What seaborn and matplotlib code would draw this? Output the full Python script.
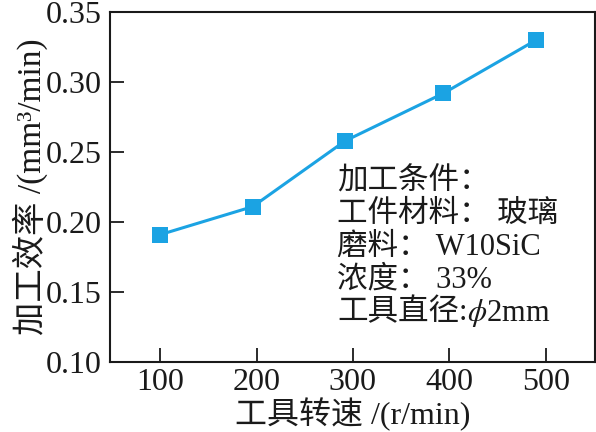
import numpy as np
import pandas as pd
import seaborn as sns
import matplotlib.pyplot as plt

# values
speed = [100, 196, 292, 394, 490]
rate = [0.191, 0.211, 0.258, 0.292, 0.330]
x_ticks = [100, 200, 300, 400, 500]
y_ticks = [0.10, 0.15, 0.20, 0.25, 0.30, 0.35]
notes = ["加工条件：", "工件材料： 玻璃", "磨料： W10SiC", "浓度： 33%"]
last_note = ["工具直径:", "$\\phi$2mm"]

sns.set_theme(style="ticks")
plt.rcParams['font.family'] = ['Liberation Serif', 'Noto Sans CJK SC']
plt.rcParams['mathtext.fontset'] = 'stix'

ink = '#1a1a1a'
blue = '#1ba3e3'

df = pd.DataFrame({'speed': speed, 'rate': rate})

fig = plt.figure(figsize=(5.96, 4.32), dpi=100)
ax = fig.add_axes([0.1846, 0.162, 0.8134, 0.810])

sns.lineplot(data=df, x='speed', y='rate', ax=ax, color=blue, linewidth=2.2,
             marker='s', markersize=11, markeredgewidth=0, markerfacecolor=blue)

ax.set_xlim(48, 551)
ax.set_ylim(0.10, 0.35)
ax.set_xticks(x_ticks)
ax.set_yticks(y_ticks)
ax.set_yticklabels([f'{v:.2f}' for v in y_ticks])
ax.tick_params(direction='in', length=10, width=1.3, labelsize=23, colors=ink)
ax.tick_params(axis='y', pad=6)
ax.tick_params(axis='x', pad=4)
for s in ax.spines.values():
    s.set_linewidth(1.5)
    s.set_color(ink)

ax.set_xlabel('工具转速 /(r/min)', fontsize=23, color=ink, labelpad=1)
ax.set_ylabel('加工效率 /(mm³/min)', fontsize=24, color=ink, labelpad=-2)

# condition notes, one line at a time
y0, step = 0.514, 0.0935
for i, line in enumerate(notes):
    ax.text(0.468, y0 - i * step, line, transform=ax.transAxes, ha='left', va='center',
            fontsize=22, color=ink)
t = ax.text(0.468, y0 - len(notes) * step, last_note[0], transform=ax.transAxes,
            ha='left', va='center', fontsize=22, color=ink)
ax.annotate(last_note[1], xy=(1, 0.5), xycoords=t, ha='left', va='center',
            fontsize=22, color=ink)

fig.savefig('out.png', dpi=100)
